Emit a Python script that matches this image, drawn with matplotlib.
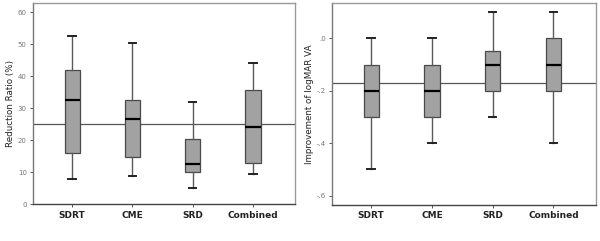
import matplotlib
matplotlib.use("Agg")
import matplotlib.pyplot as plt

# categories and box statistics
groups = ["SDRT", "CME", "SRD", "Combined"]

# reduction ratio (%)
rr_low = [8.0, 8.8, 5.0, 9.5]
rr_q1 = [16.0, 14.7, 10.0, 12.8]
rr_med = [32.5, 26.7, 12.7, 24.0]
rr_q3 = [42.0, 32.5, 20.3, 35.7]
rr_high = [52.5, 50.5, 32.0, 44.0]
rr_ref = 25.0

# improvement of logMAR VA
va_low = [-0.5, -0.4, -0.3, -0.4]
va_q1 = [-0.3, -0.3, -0.2, -0.2]
va_med = [-0.2, -0.2, -0.1, -0.1]
va_q3 = [-0.1, -0.1, -0.05, 0.0]
va_high = [0.0, 0.0, 0.1, 0.1]
va_ref = -0.172


def make_stats(low, q1, med, q3, high):
    return [{"whislo": a, "q1": b, "med": c, "q3": d, "whishi": e, "fliers": []}
            for a, b, c, d, e in zip(low, q1, med, q3, high)]


def draw_panel(ax, stats, ref, ylabel, yticks, yticklabels, ylim):
    ax.bxp(stats, positions=range(1, len(groups) + 1), widths=0.25,
           patch_artist=True, showfliers=False,
           boxprops=dict(facecolor="#a2a2a2", edgecolor="#4a4a4a", linewidth=0.9),
           medianprops=dict(color="black", linewidth=1.6),
           whiskerprops=dict(color="#5a5a5a", linewidth=1.0),
           capprops=dict(color="#222222", linewidth=1.4))
    ax.axhline(ref, color="#555555", linewidth=0.9, zorder=0.5)
    ax.set_xlim(0.35, 4.7)
    ax.set_ylim(*ylim)
    ax.set_xticks(range(1, len(groups) + 1))
    ax.set_xticklabels(groups, fontsize=6.5, fontweight="bold", color="#222222")
    ax.set_yticks(yticks)
    ax.set_yticklabels(yticklabels, fontsize=5, color="#777777")
    ax.set_ylabel(ylabel, fontsize=6.3, color="#222222", labelpad=2)
    ax.tick_params(axis="both", length=2.5, width=0.7, color="#555555", pad=2)
    for side in ["top", "right"]:
        ax.spines[side].set_color("#999999")
        ax.spines[side].set_linewidth(1.0)
    ax.spines["left"].set_color("#777777")
    ax.spines["left"].set_linewidth(1.0)
    ax.spines["bottom"].set_color("#444444")
    ax.spines["bottom"].set_linewidth(1.0)


fig = plt.figure(figsize=(6.0, 2.41), dpi=100)
ax1 = fig.add_axes([0.055, 0.152, 0.437, 0.836])
ax2 = fig.add_axes([0.553, 0.149, 0.440, 0.839])

draw_panel(ax1, make_stats(rr_low, rr_q1, rr_med, rr_q3, rr_high), rr_ref,
           "Reduction Ratio (%)", [0, 10, 20, 30, 40, 50, 60],
           ["0", "10", "20", "30", "40", "50", "60"], (0, 62.9))
draw_panel(ax2, make_stats(va_low, va_q1, va_med, va_q3, va_high), va_ref,
           "Improvement of logMAR VA", [-0.6, -0.4, -0.2, 0.0],
           ["-.6", "-.4", "-.2", ".0"], (-0.636, 0.135))

fig.savefig("out.png", dpi=100)
